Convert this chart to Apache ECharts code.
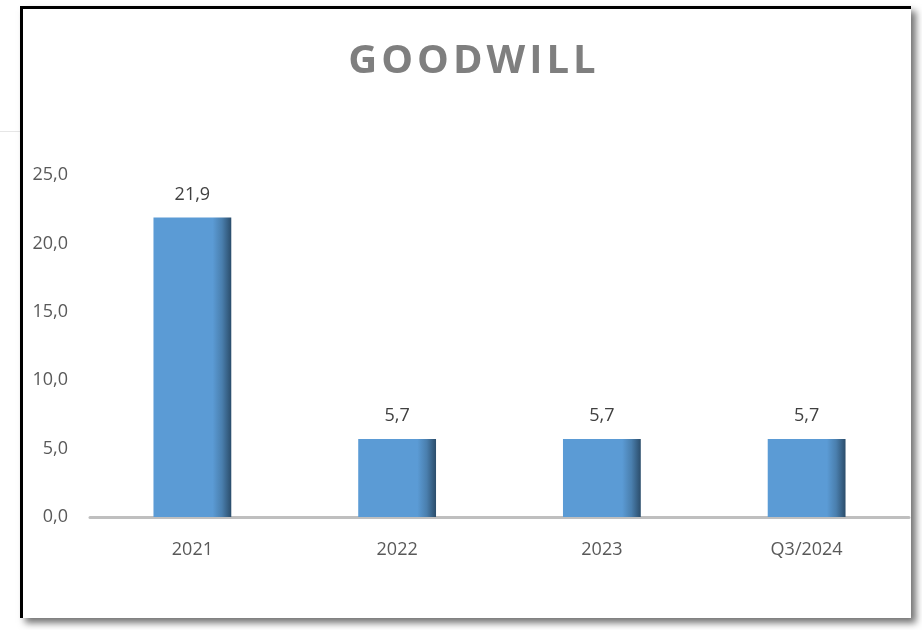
<!DOCTYPE html>
<html>
<head>
<meta charset="utf-8">
<script src="https://cdn.jsdelivr.net/npm/echarts@6/dist/echarts.min.js"></script>
<style>
  html, body { margin: 0; padding: 0; background: #fff; }
  #stage { position: relative; width: 922px; height: 630px; overflow: hidden; }
  #frame {
    position: absolute; left: 20px; top: 6px; width: 888px; height: 609px;
    border-left: 3px solid #000; border-top: 3px solid #000;
    box-shadow: 5px 5px 7px rgba(0, 0, 0, 0.55);
    background: #fff;
  }
  #stub { position: absolute; left: 0; top: 131px; width: 20px; height: 1px; background: #e6e6e6; }
  #chart { position: absolute; left: 0; top: 0; width: 922px; height: 630px; }
  #title {
    position: absolute; left: 272px; width: 400px; top: 34px; text-align: center;
    font-family: 'Open Sans', sans-serif; font-weight: bold; font-size: 40px;
    line-height: 48px; letter-spacing: 4px; text-indent: 4px; color: #7f7f7f;
  }
</style>
</head>
<body>
<div id="stage">
  <div id="stub"></div>
  <div id="frame"></div>
  <div id="chart"></div>
  <div id="title">GOODWILL</div>
</div>
<script>
const categories = ['2021', '2022', '2023', 'Q3/2024'];
const goodwill = [21.9, 5.7, 5.7, 5.7];

const fmt = (v) => v.toFixed(1).replace('.', ',');

const chart = echarts.init(document.getElementById('chart'));

const barColor = new echarts.graphic.LinearGradient(0, 0, 1, 0, [
  { offset: 0, color: '#5b9bd5' },
  { offset: 0.76, color: '#5b9bd5' },
  { offset: 0.88, color: '#4a7fae' },
  { offset: 1, color: '#2b4d6b' },
]);

chart.setOption({
  backgroundColor: 'transparent',
  animation: false,
  grid: { left: 90, right: 13, top: 175, bottom: 113 },
  xAxis: {
    type: 'category',
    data: categories,
    axisLine: { lineStyle: { color: '#bfbfbf', width: 3 } },
    axisTick: { show: false },
    axisLabel: {
      margin: 24,
      fontFamily: 'Open Sans',
      fontSize: 18,
      color: '#595959',
    },
  },
  yAxis: {
    type: 'value',
    min: 0,
    max: 25,
    interval: 5,
    axisLine: { show: false },
    axisTick: { show: false },
    splitLine: { show: false },
    axisLabel: {
      margin: 22,
      fontFamily: 'Open Sans',
      fontSize: 18,
      color: '#595959',
      formatter: fmt,
    },
  },
  series: [
    {
      type: 'bar',
      data: goodwill,
      barWidth: '38%',
      itemStyle: { color: barColor },
      label: {
        show: true,
        position: 'top',
        distance: 14,
        fontFamily: 'Open Sans',
        fontSize: 18,
        color: '#404040',
        formatter: (p) => fmt(p.value),
      },
    },
  ],
});
</script>
</body>
</html>
